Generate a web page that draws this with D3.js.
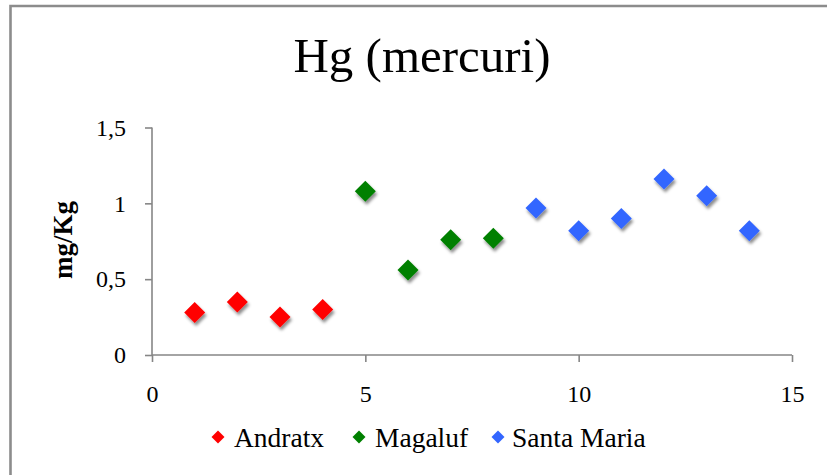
<!DOCTYPE html>
<html>
<head>
<meta charset="utf-8">
<script src="https://cdn.jsdelivr.net/npm/d3@7"></script>
<style>
  html, body { margin: 0; padding: 0; background: #fff; }
  svg { display: block; }
  text { font-family: "Liberation Serif", "Times New Roman", serif; fill: #000; }
</style>
</head>
<body>
<svg id="chart" width="827" height="475"></svg>
<script>
// Mercury concentration (mg/Kg) per sampling point, grouped by site
const andratxX = [1, 2, 3, 4];
const andratxY = [0.28, 0.35, 0.25, 0.30];
const magalufX = [5, 6, 7, 8];
const magalufY = [1.08, 0.56, 0.76, 0.77];
const santaMariaX = [9, 10, 11, 12, 13, 14];
const santaMariaY = [0.97, 0.82, 0.90, 1.16, 1.05, 0.82];

const seriesNames = ["Andratx", "Magaluf", "Santa Maria"];
const seriesColors = ["#ff0000", "#008000", "#3366ff"];
const xTicks = [0, 5, 10, 15];
const yTicks = [0, 0.5, 1, 1.5];
const titleText = "Hg (mercuri)";
const yTitle = "mg/Kg";

const series = [
  { name: seriesNames[0], color: seriesColors[0], pts: andratxX.map((x, i) => ({ x, y: andratxY[i] })) },
  { name: seriesNames[1], color: seriesColors[1], pts: magalufX.map((x, i) => ({ x, y: magalufY[i] })) },
  { name: seriesNames[2], color: seriesColors[2], pts: santaMariaX.map((x, i) => ({ x, y: santaMariaY[i] })) }
];

const svg = d3.select("#chart");
const fmt = d => String(d).replace(".", ",");

const x = d3.scaleLinear().domain([0, 15]).range([152, 792]);
const y = d3.scaleLinear().domain([0, 1.5]).range([355, 127.5]);

// soft drop shadow under the markers
const defs = svg.append("defs");
const f = defs.append("filter").attr("id", "shadow")
  .attr("x", "-50%").attr("y", "-50%").attr("width", "200%").attr("height", "200%");
f.append("feDropShadow").attr("dx", 1.5).attr("dy", 3).attr("stdDeviation", 1.6)
  .attr("flood-color", "#000").attr("flood-opacity", 0.45);

// chart frame (top and left edges visible)
svg.append("path")
  .attr("d", "M10.5,830 V6 H830")
  .attr("fill", "none").attr("stroke", "#8c8c8c").attr("stroke-width", 2.6);

// title
svg.append("text")
  .attr("x", 422).attr("y", 72)
  .attr("text-anchor", "middle")
  .attr("font-size", 49)
  .text(titleText);

// axes
const axisColor = "#868686";
const yAxis = svg.append("g").attr("transform", `translate(${x(0)},0)`)
  .call(d3.axisLeft(y).tickValues(yTicks).tickFormat(fmt).tickSize(7).tickPadding(19));
const xAxis = svg.append("g").attr("transform", `translate(0,${y(0)})`)
  .call(d3.axisBottom(x).tickValues(xTicks).tickFormat(fmt).tickSize(7).tickPadding(23));

[yAxis, xAxis].forEach(g => {
  g.select(".domain").attr("stroke", axisColor).attr("stroke-width", 1.6);
  g.selectAll(".tick line").attr("stroke", axisColor).attr("stroke-width", 1.6);
  g.selectAll(".tick text")
    .attr("font-family", "Liberation Serif, serif")
    .attr("font-size", 24).attr("fill", "#000");
});
yAxis.select(".domain").attr("d", `M0,${y(1.5)}V${y(0)}`);
xAxis.select(".domain").attr("d", `M${x(0)},0H${x(15)}`);

// y-axis title
svg.append("text")
  .attr("transform", `translate(72,240) rotate(-90)`)
  .attr("text-anchor", "middle")
  .attr("font-size", 27).attr("font-weight", "bold")
  .text(yTitle);

// diamond markers
const diamond = s => `M0,${-s}L${s},0L0,${s}L${-s},0Z`;
series.forEach(s => {
  svg.append("g").attr("filter", "url(#shadow)")
    .selectAll("path").data(s.pts).join("path")
    .attr("transform", d => `translate(${x(d.x)},${y(d.y)})`)
    .attr("d", diamond(10.5))
    .attr("fill", s.color);
});

// legend
const legendItems = [
  { lx: 218, tx: 234 },
  { lx: 359, tx: 375 },
  { lx: 498, tx: 512 }
];
series.forEach((s, i) => {
  const g = svg.append("g");
  g.append("path")
    .attr("transform", `translate(${legendItems[i].lx},437)`)
    .attr("d", diamond(6.5))
    .attr("fill", s.color);
  g.append("text")
    .attr("x", legendItems[i].tx).attr("y", 446.5)
    .attr("font-size", 27.5)
    .text(s.name);
});
</script>
</body>
</html>
